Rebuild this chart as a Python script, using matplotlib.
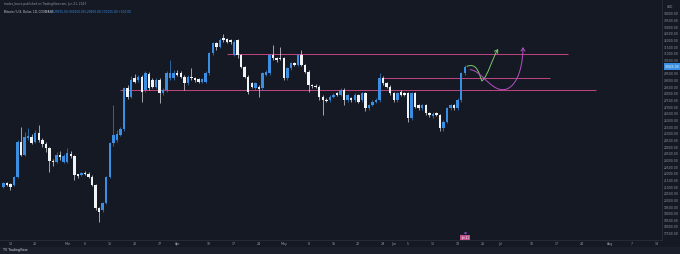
import numpy as np
import pandas as pd
import matplotlib
matplotlib.use("Agg")
import matplotlib.pyplot as plt
import matplotlib.dates as mdates
from matplotlib.path import Path
from matplotlib.patches import FancyArrowPatch, Rectangle

# daily candles
dates = pd.date_range("2023-02-11", periods=131, freq="D")
opens = [21025, 21275, 21225, 21150, 21775, 24400, 23400, 24650, 24775, 24400,
         25025, 24525, 24225, 23900, 22975, 22900, 23400, 22900, 22900, 23475,
         23325, 21950, 21900, 22075, 21975, 21775, 21150, 19400, 19275, 19775,
         21775, 24275, 24525, 24900, 25325, 28400, 27775, 29150, 29025, 29275,
         28275, 29475, 29025, 28525, 29025, 28025, 28275, 29150, 29150, 29575,
         29525, 29275, 28775, 29275, 29150, 29075, 28900, 28900, 29525, 31025,
         31775, 31525, 32150, 32075, 32025, 30900, 32000, 30900, 30025, 29275,
         28775, 28400, 28525, 28400, 29400, 29525, 30900, 30650, 30650, 30650,
         29150, 29900, 30275, 30150, 30900, 30150, 29650, 28650, 28575, 28525,
         27775, 27525, 27525, 27775, 28025, 27900, 28275, 27525, 27650, 27525,
         27900, 27525, 28025, 26900, 27150, 27400, 27525, 29150, 28775, 28525,
         28025, 27525, 28150, 28025, 28025, 26150, 28025, 27150, 26900, 27150,
         26525, 26325, 26525, 26400, 25400, 25900, 26900, 27150, 26900, 27525,
         29525]
highs = [21400, 21400, 21300, 21850, 24500, 25525, 25100, 25400, 25000, 25300,
         25650, 24700, 24400, 24000, 23100, 23600, 23700, 23500, 23900, 23700,
         23400, 22000, 22150, 22200, 22100, 21900, 21250, 19500, 19900, 21850,
         24350, 27150, 25300, 25500, 28500, 28650, 29300, 29500, 29400, 29400,
         29700, 29600, 29200, 29200, 29150, 28400, 29700, 30525, 29800, 29800,
         29700, 29400, 29400, 29900, 29250, 29200, 29200, 29700, 31150, 31900,
         31900, 32150, 32500, 32200, 32100, 32000, 32100, 31000, 30100, 29400,
         28900, 28900, 28650, 29650, 29750, 31000, 31650, 30750, 31525, 30750,
         30000, 30400, 30400, 31000, 31275, 30250, 29750, 28750, 28700, 28650,
         27900, 27650, 27900, 28050, 28150, 28400, 28400, 28000, 27750, 28050,
         28000, 28150, 28150, 27250, 27500, 27650, 29525, 29300, 28900, 28650,
         28150, 28150, 28250, 28150, 28150, 28150, 28150, 27250, 27250, 27250,
         26650, 26600, 26650, 26500, 26000, 27000, 27250, 27250, 27650, 29650,
         30150]
lows = [20900, 21050, 20775, 21100, 21700, 23300, 23300, 24500, 24200, 24300,
        24400, 24000, 23600, 22150, 22600, 22800, 23050, 22800, 22800, 23200,
        21525, 21700, 21800, 21900, 21650, 21050, 19300, 18400, 19100, 19700,
        21700, 24100, 24400, 24800, 25200, 27600, 27650, 28800, 28900, 27400,
        28100, 28300, 28400, 28400, 27275, 27900, 28150, 29000, 29000, 29300,
        29150, 28300, 28650, 29050, 28900, 28800, 28800, 28800, 29400, 30900,
        31300, 31400, 31900, 31800, 31750, 30800, 30700, 29900, 29150, 28000,
        28400, 28300, 27775, 28300, 29300, 29400, 30550, 30400, 30500, 29050,
        29000, 29800, 30050, 30050, 30050, 29550, 28150, 28450, 28400, 27525,
        26400, 27350, 27400, 27650, 27800, 27800, 27150, 27400, 27400, 27400,
        27300, 27400, 26700, 26750, 27050, 27300, 27400, 28650, 28400, 27900,
        27400, 27400, 27800, 27800, 25900, 26000, 26900, 26750, 26800, 26400,
        26250, 26200, 26300, 25200, 25200, 25800, 26800, 26800, 26800, 27400,
        29400]
closes = [21275, 21150, 21025, 21775, 24400, 23400, 24775, 24825, 24325, 25025,
          24525, 24225, 23900, 22975, 22850, 23400, 23225, 23325, 23525, 23325,
          21900, 21850, 22025, 21975, 21775, 21150, 19400, 19150, 19775, 21775,
          24275, 24900, 24975, 25325, 28400, 27775, 29025, 28900, 29275, 28150,
          29525, 28400, 28525, 29025, 28025, 28275, 29525, 29525, 29575, 29400,
          29275, 28775, 29275, 29150, 29025, 28900, 29075, 29525, 31025, 31775,
          31525, 32025, 32025, 31900, 31900, 31900, 30900, 30025, 29275, 28150,
          28525, 28775, 28325, 29525, 29650, 30900, 30650, 30525, 30575, 29150,
          29900, 30275, 30150, 30900, 30150, 29650, 28650, 28575, 28525, 27775,
          27525, 27450, 27775, 27900, 27900, 28275, 27525, 27900, 27525, 27900,
          27400, 28025, 26900, 27150, 27400, 27525, 29150, 28775, 28525, 28025,
          27525, 28025, 27900, 27900, 26150, 28025, 27025, 26900, 27150, 26525,
          26400, 26475, 26400, 25400, 25900, 26900, 27150, 26900, 27525, 29525,
          30025]

# drawn levels: (start date, end date, price)
levels = [("2023-04-15", "2023-07-20", 30940),
          ("2023-05-29", "2023-07-15", 29140),
          ("2023-03-16", "2023-07-28", 28310)]

price_ticks = np.arange(17500, 34001, 500)
tick_dates = ["2023-02-13", "2023-02-20", "2023-03-01", "2023-03-06", "2023-03-13",
              "2023-03-20", "2023-03-27", "2023-04-01", "2023-04-10", "2023-04-17",
              "2023-04-24", "2023-05-01", "2023-05-08", "2023-05-15", "2023-05-22",
              "2023-05-29", "2023-06-01", "2023-06-05", "2023-06-12", "2023-06-19",
              "2023-06-26", "2023-07-01", "2023-07-10", "2023-07-17", "2023-07-24",
              "2023-08-01", "2023-08-07", "2023-08-14"]
tick_labels = ["13", "20", "Mar", "6", "13", "20", "27", "Apr", "10", "17", "24",
               "May", "8", "15", "22", "29", "Jun", "5", "12", "19", "26", "Jul",
               "10", "17", "24", "Aug", "7", "14"]

bg = "#151924"
up_col = "#3a8fe2"
down_col = "#f2f3f5"
level_col = "#b8447e"
txt_col = "#9598a1"

fig = plt.figure(figsize=(6.8, 2.54), dpi=100, facecolor=bg)
ax = fig.add_axes([0, 14 / 254, 662 / 680, 240 / 254], facecolor=bg)

x = mdates.date2num(dates)
o = np.array(opens); c = np.array(closes)
h = np.array(highs); l = np.array(lows)
up = c >= o
cols = np.where(up, up_col, down_col)

ax.vlines(x, l, h, colors=cols, linewidth=0.45, zorder=2)
bottoms = np.minimum(o, c)
heights = np.maximum(np.abs(c - o), 40)
ax.bar(x, heights, bottom=bottoms, width=0.7, color=cols, linewidth=0, zorder=3)

for start, end, p in levels:
    ax.hlines(p, mdates.datestr2num(start), mdates.datestr2num(end),
              colors=level_col, linewidth=0.75, zorder=1)

# projected path arrows
d0 = x[0]
green_pts = [(130.6, 30050), (133.5, 30350), (134.0, 29500), (134.8, 28950),
             (136.5, 29300), (137.8, 30700), (139.4, 31350)]
purple_pts = [(131.5, 29800), (134.5, 29750), (137.0, 28350), (140.5, 28300),
              (144.0, 28250), (146.3, 29600), (146.4, 31500)]
codes = [Path.MOVETO] + [Path.CURVE4] * 6
for pts, col in [(green_pts, "#7cc76a"), (purple_pts, "#b54fc4")]:
    verts = [(d0 + a, b) for a, b in pts]
    arr = FancyArrowPatch(path=Path(verts, codes), arrowstyle="->,head_length=2.2,head_width=1.4",
                          color=col, linewidth=0.7, zorder=4)
    ax.add_patch(arr)

ax.set_xlim(d0 - 0.93, d0 + 185.55)
ax.set_ylim(17025, 35025)

ax.yaxis.tick_right()
ax.set_yticks(price_ticks)
ax.set_yticklabels([f"{p:.2f}" for p in price_ticks])
ax.tick_params(axis="y", length=0, pad=1.5, labelsize=2.2, labelcolor=txt_col)
ax.set_xticks([mdates.datestr2num(d) for d in tick_dates])
ax.set_xticklabels(tick_labels)
ax.tick_params(axis="x", length=0, pad=1.2, labelsize=2.3, labelcolor=txt_col)
for s in ["top", "left"]:
    ax.spines[s].set_visible(False)
ax.spines["right"].set_color("#2a2e39")
ax.spines["right"].set_linewidth(0.6)
ax.spines["bottom"].set_color("#2a2e39")
ax.spines["bottom"].set_linewidth(0.6)

# last price tag
last = closes[-1]
ax.annotate(f"{last:.2f}", xy=(1.0, last), xycoords=("axes fraction", "data"),
            xytext=(2, 0), textcoords="offset points", fontsize=2.2, color="white",
            va="center", ha="left",
            bbox=dict(boxstyle="square,pad=0.4", fc=up_col, ec="none"), zorder=6)
fig.text(670 / 680, 1 - 7 / 254, "USD", fontsize=2.2, color=txt_col, ha="center", va="center")

# header
fig.text(4 / 680, 1 - 4 / 254, "tradez_bruce published on TradingView.com, Jun 21, 2023",
         fontsize=2.1, color=txt_col, va="center")
fig.text(4 / 680, 1 - 12 / 254, "Bitcoin / U.S. Dollar, 1D, COINBASE", fontsize=2.1,
         color="#d1d4dc", va="center")
fig.text(52 / 680, 1 - 12 / 254, "O29525.00 H30150.00 L29400.00 C30025.00 +500.00",
         fontsize=2.1, color=up_col, va="center")

# date marker on time axis
xm = (x[-1] - (d0 - 0.93)) / 186.48 * 662 / 680
fig.patches.append(Rectangle((xm - 5 / 680, 1 - 240 / 254), 10 / 680, 5 / 254,
                             transform=fig.transFigure, fc="#c04f8e", ec="none"))
fig.text(xm, 1 - 237.5 / 254, "Jun 21", fontsize=1.8, color="white", ha="center", va="center")
fig.text(xm, 1 - 233 / 254, "●", fontsize=2.5, color="#7b4fb8", ha="center", va="center")

# footer
fig.patches.append(Rectangle((0, 0), 1, 7 / 254, transform=fig.transFigure,
                             fc="#1b1f2b", ec="none"))
fig.text(3 / 680, 3.5 / 254, "TV TradingView", fontsize=2.3, color="#d1d4dc", va="center")

fig.savefig("out.png", dpi=100, facecolor=bg)
